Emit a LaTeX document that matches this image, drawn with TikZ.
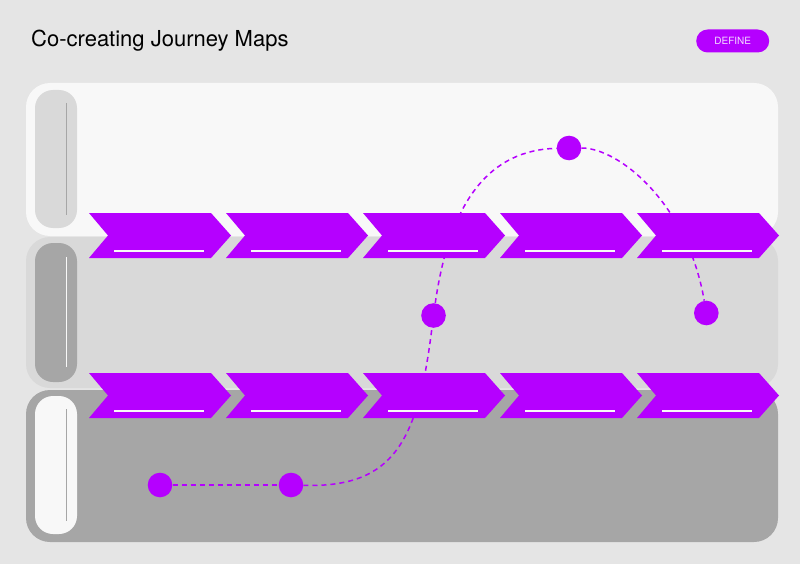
\documentclass[tikz,border=0pt]{standalone}
\usepackage{fontspec}
\setmainfont{TeX Gyre Heros}
\usepackage{tikz}
\usetikzlibrary{positioning,calc}

\definecolor{jviolet}{HTML}{B500FF}
\definecolor{pagebg}{HTML}{E5E5E5}
\definecolor{laneone}{HTML}{F8F8F8}
\definecolor{lanetwo}{HTML}{D9D9D9}
\definecolor{lanethree}{HTML}{A6A6A6}
\definecolor{tagtext}{HTML}{F4DDFF}

\pgfdeclarelayer{panels}
\pgfdeclarelayer{links}
\pgfdeclarelayer{chevrons}
\pgfsetlayers{panels,links,chevrons,main}

\tikzset{
    touchpoint/.style={circle, fill=jviolet, minimum size=24.6pt, inner sep=0pt},
    link/.style={jviolet, line width=1.5pt, dash pattern=on 5pt off 4pt},
    tag/.style={fill=jviolet, rounded corners=11.5pt, minimum width=73pt, minimum height=23pt,
        inner sep=0pt, text=tagtext, font=\fontsize{10}{12}\selectfont},
    lane/.style={rounded corners=24pt},
    handle/.style={rounded corners=18pt},
}

\begin{document}
\begin{tikzpicture}[x=1pt, y=-1pt]
    \useasboundingbox (0,0) rectangle (800,564);

    % Page and lanes
    \begin{pgfonlayer}{panels}
        \fill [pagebg] (0,0) rectangle (800,564);
        \fill [laneone, lane] (26,83) rectangle (778,236);
        \fill [lanetwo, lane] (26,237) rectangle (778,388);
        \fill [lanethree, lane] (26,390) rectangle (778,542);
        % Handles
        \fill [lanetwo, handle] (35,90) rectangle (77,228);
        \fill [lanethree, handle] (35,243) rectangle (77,382);
        \fill [laneone, handle] (35,396) rectangle (77,534);
        \draw [lanethree, line width=1pt] (66,103) -- (66,215);
        \draw [laneone, line width=1pt] (66,257) -- (66,367);
        \draw [lanethree, line width=1pt] (66,409) -- (66,521);
    \end{pgfonlayer}

    % Title and phase
    \node [anchor=base west, inner sep=0pt, font=\fontsize{22}{26}\selectfont] (title) at (31,47) {Co-creating Journey Maps};
    \node [tag] (phase) at (732.7,41) {DEFINE};

    % Touchpoints
    \node [touchpoint] (d1) at (160,485) {};
    \node [touchpoint] (d2) at (291,485) {};
    \node [touchpoint] (d3) at (433.5,315.5) {};
    \node [touchpoint] (d4) at (569,148) {};
    \node [touchpoint] (d5) at (706.3,313) {};

    % Journey line
    \begin{pgfonlayer}{links}
        \draw [link] (d1) -- (d2);
        \draw [link] (d2) .. controls (395,488) and (418,440) .. (d3);
        \draw [link] (d3) .. controls (450,200) and (490,150) .. (d4);
        \draw [link] (d4) .. controls (620,148) and (688,205) .. (d5);
    \end{pgfonlayer}

    % Stages
    \begin{pgfonlayer}{chevrons}
        \foreach \y in {213,373} {
            \foreach \x in {89,226,363,500,637} {
                \fill [jviolet] (\x,\y) -- ++(122,0) -- ++(20,22.5) -- ++(-20,22.5)
                    -- ++(-122,0) -- ++(19,-22.5) -- cycle;
                \draw [laneone, line width=1.2pt] (\x+25,\y+38) -- (\x+115,\y+38);
            }
        }
    \end{pgfonlayer}
\end{tikzpicture}
\end{document}
